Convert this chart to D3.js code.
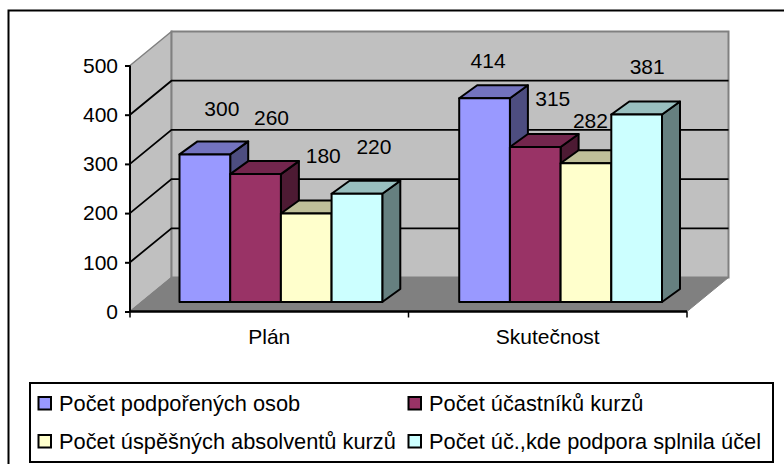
<!DOCTYPE html>
<html><head><meta charset="utf-8">
<script src="https://cdn.jsdelivr.net/npm/d3@7/dist/d3.min.js"></script>
<style>
html,body{margin:0;padding:0;background:#fff;overflow:hidden}
svg{display:block}
text{font-family:"Liberation Sans",Arial,sans-serif;fill:#000}
</style></head><body>
<svg id="c" width="784" height="464"></svg>
<script>
const categories = ["Plán", "Skutečnost"];
const seriesNames = ["Počet podpořených osob", "Počet účastníků kurzů", "Počet úspěšných absolventů kurzů", "Počet úč.,kde podpora splnila účel"];
const planValues = [300, 260, 180, 220];
const actualValues = [414, 315, 282, 381];
const yTicks = [0, 100, 200, 300, 400, 500];
const seriesColors = ["#9999ff", "#993366", "#ffffcc", "#ccffff"];

// label placement quirks of the original (offset from bar-top centre), per category then series
const labelShift = [
  [[17, -46], [16, -56], [17, -58], [17, -47]],
  [[3.5, -38], [17.5, -48], [4.5, -43], [10.5, -48]]
];

const svg = d3.select("#c");
const valuesByCat = [planValues, actualValues];
const FS = 21;
const LEG = 21.8;

const y = d3.scaleLinear().domain([0, 500]).range([311.5, 65.5]);
const axisX = d3.scaleBand().domain(categories).range([130, 687]);
const x0 = d3.scaleBand().domain(categories).range([179.5, 662]).paddingInner(0.275);
const x1 = d3.scaleBand().domain(d3.range(4)).range([0, x0.bandwidth()]);
const wall = {dx: 41.5, dy: -34};
const bar = {dx: 18, dy: -13, baseDy: -9.5};
const left = 130, right = 687;
const path = pts => d3.line()(pts) + "Z";

// frame
svg.append("path").attr("d", "M8.5,464V10.5H784").attr("fill", "none").attr("stroke", "#000").attr("stroke-width", 2);

// walls and floor
const y0 = y(0), yT = y(500);
svg.append("path").attr("d", path([[left, y0], [left, yT], [left + wall.dx, yT + wall.dy], [left + wall.dx, y0 + wall.dy]]))
  .attr("fill", "#c0c0c0").attr("stroke", "#808080").attr("stroke-width", 1.5);
svg.append("path").attr("d", path([[left + wall.dx, yT + wall.dy], [right + wall.dx, yT + wall.dy], [right + wall.dx, y0 + wall.dy], [left + wall.dx, y0 + wall.dy]]))
  .attr("fill", "#c0c0c0").attr("stroke", "#808080").attr("stroke-width", 2);
svg.append("path").attr("d", path([[left, y0], [left + wall.dx, y0 + wall.dy], [right + wall.dx, y0 + wall.dy], [right, y0]]))
  .attr("fill", "#808080").attr("stroke", "#808080");

// gridlines
const grid = yTicks.filter(t => t > 0 && t < 500);
svg.append("g").selectAll("path").data(grid).join("path")
  .attr("d", t => d3.line()([[left, y(t)], [left + wall.dx, y(t) + wall.dy], [right + wall.dx, y(t) + wall.dy]]))
  .attr("fill", "none").attr("stroke", "#000").attr("stroke-width", 1.8);

// axes
const gy = svg.append("g").attr("transform", `translate(${left},0)`)
  .call(d3.axisLeft(y).tickValues(yTicks).tickSize(5).tickPadding(7));
gy.selectAll("text").attr("font-size", FS).style("font-family", '"Liberation Sans",Arial,sans-serif').attr("fill", "#000");
gy.selectAll("line,path").attr("stroke", "#000").attr("stroke-width", 2);
gy.select(".domain").attr("d", `M0,${y0}V${yT}`);

const gx = svg.append("g").attr("transform", `translate(0,${y0})`)
  .call(d3.axisBottom(axisX).tickSize(0).tickPadding(18));
gx.selectAll("text").attr("font-size", LEG - 0.8).style("font-family", '"Liberation Sans",Arial,sans-serif').attr("fill", "#000");
gx.select(".domain").attr("d", `M${left},0H${right}`).attr("stroke", "#000").attr("stroke-width", 2.4);
gx.selectAll(".sep").data([left, left + axisX.step(), right]).join("line").attr("class", "sep")
  .attr("x1", d => d).attr("x2", d => d).attr("y1", 0).attr("y2", 6).attr("stroke", "#000").attr("stroke-width", 1.5);

// bars
const flat = [];
categories.forEach((c, ci) => valuesByCat[ci].forEach((v, si) => flat.push({c, ci, si, v})));
const shade = (col, k) => { const r = d3.rgb(col); return d3.rgb(r.r * k, r.g * k, r.b * k).formatHex(); };
const barsG = svg.append("g").attr("stroke", "#000").attr("stroke-width", 2).attr("stroke-linejoin", "round");
flat.forEach(d => {
  const xa = x0(d.c) + x1(d.si), xb = xa + x1.bandwidth();
  const ya = y(d.v) + bar.baseDy, yb = y0 + bar.baseDy;
  const g = barsG.append("g");
  g.append("path").attr("d", path([[xb, ya], [xb + bar.dx, ya + bar.dy], [xb + bar.dx, yb + bar.dy], [xb, yb]])).attr("fill", shade(seriesColors[d.si], 0.5));
  g.append("path").attr("d", path([[xa, ya], [xa + bar.dx, ya + bar.dy], [xb + bar.dx, ya + bar.dy], [xb, ya]])).attr("fill", shade(seriesColors[d.si], 0.75));
  g.append("rect").attr("x", xa).attr("y", ya).attr("width", xb - xa).attr("height", yb - ya).attr("fill", seriesColors[d.si]);
});

// data labels
svg.append("g").selectAll("text").data(flat).join("text")
  .attr("x", d => x0(d.c) + x1(d.si) + x1.bandwidth() / 2 + labelShift[d.ci][d.si][0])
  .attr("y", d => y(d.v) + bar.baseDy + labelShift[d.ci][d.si][1])
  .attr("dy", "0.35em").attr("text-anchor", "middle").attr("font-size", FS).text(d => d.v);

// legend
svg.append("rect").attr("x", 30).attr("y", 383).attr("width", 743).attr("height", 79)
  .attr("fill", "#fff").attr("stroke", "#000").attr("stroke-width", 2);
const legX = d3.scaleOrdinal().domain([0, 1]).range([38.5, 408.5]);
const legY = d3.scaleOrdinal().domain([0, 1]).range([397, 435]);
const lg = svg.append("g").selectAll("g").data(seriesNames).join("g")
  .attr("transform", (d, i) => `translate(${legX(i % 2)},${legY(Math.floor(i / 2))})`);
lg.append("rect").attr("width", 12.5).attr("height", 12.5).attr("fill", (d, i) => seriesColors[i]).attr("stroke", "#000").attr("stroke-width", 2);
lg.append("text").attr("x", 20.5).attr("y", 6.5).attr("dy", "0.35em").attr("font-size", LEG).text(d => d);
</script>
</body></html>
